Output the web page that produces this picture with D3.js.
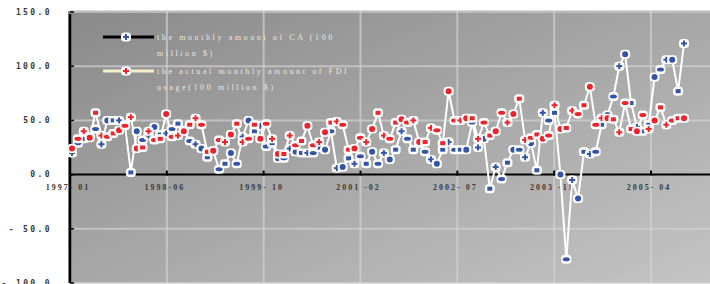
<!DOCTYPE html>
<html>
<head>
<meta charset="utf-8">
<script src="https://cdn.jsdelivr.net/npm/d3@7"></script>
<style>
  body { margin: 0; background: #fff; }
  svg { display: block; }
</style>
</head>
<body>
<svg width="710" height="284"></svg>
<script>
// monthly categories, 1997-01 .. 2005-09
var months = d3.timeMonths(new Date(1997, 0, 1), new Date(2005, 9, 1)).map(d3.timeFormat("%Y-%m"));

// monthly amount of CA (100 million $)
var caValues = [20, 29, 33, 35, 42, 28, 50, 50, 50, 46, 2, 40, 32, 36, 44, 37, 38, 42, 47, 41,
  31, 28, 24, 16, 22, 5, 10, 20, 10, 35, 50, 40, 45, 26, 29, 15, 15, 24, 21, 20,
  20, 20, 25, 23, 40, 6, 7, 15, 10, 17, 10, 21, 10, 20, 14, 23, 40, 33, 23, 29,
  21, 14, 10, 23, 30, 23, 23, 23, 48, 25, 33, -13, 7, -4, 11, 23, 23, 16, 29, 4,
  57, 50, 57, 0, -78, -5, -22, 21, 19, 21, 46, 55, 72, 100, 111, 66, 44, 40, 46, 90,
  97, 106, 106, 77, 121];

// actual monthly amount of FDI usage (100 million $)
var fdiValues = [24, 33, 40, 34, 57, 36, 35, 38, 41, 45, 53, 24, 25, 40, 32, 33, 56, 35, 36, 40,
  46, 52, 46, 21, 22, 32, 30, 37, 47, 30, 33, 46, 33, 47, 33, 19, 19, 36, 27, 31,
  45, 27, 30, 39, 48, 49, 46, 23, 24, 34, 30, 42, 57, 36, 33, 48, 51, 48, 50, 30,
  30, 43, 41, 29, 77, 50, 50, 52, 52, 33, 48, 36, 40, 57, 48, 56, 70, 32, 34, 37,
  33, 36, 64, 42, 43, 59, 56, 64, 81, 46, 52, 52, 51, 39, 66, 42, 40, 55, 42, 50,
  62, 46, 50, 52, 52];

var tickLabels = ["1997- 01", "1998-06", "1999- 10", "2001 -02", "2002- 07", "2003 -11", "2005- 04"];
var yTicks = [-100, -50, 0, 50, 100, 150];

var seriesNames = ["the monthly amount of CA (100|million $)", "the actual monthly amount of FDI|usage(100 million $)"];
var seriesColors = ["#3454a8", "#ee2228"];
var legendLineColors = ["#000", "#f4f0c8"];

var svg = d3.select("svg"),
    plotLeft = 70, plotRight = 710, plotTop = 11, plotBottom = 283;

var x = d3.scaleLinear().domain([0, months.length - 1]).range([72, 684]);
var xTick = d3.scalePoint().domain(tickLabels).range([70, 651]);
var y = d3.scaleLinear().domain([-100, 150]).range([plotBottom, plotTop + 1]);

var defs = svg.append("defs");
var grad = defs.append("linearGradient").attr("id", "bg")
    .attr("x1", 0).attr("y1", 0).attr("x2", 1).attr("y2", 1);
grad.append("stop").attr("offset", "0%").attr("stop-color", "#8a8a8a");
grad.append("stop").attr("offset", "100%").attr("stop-color", "#c4c4c4");

// plot background
svg.append("rect")
    .attr("x", plotLeft - 2).attr("y", plotTop)
    .attr("width", plotRight - plotLeft + 2).attr("height", plotBottom - plotTop)
    .attr("fill", "url(#bg)");
svg.append("line")
    .attr("x1", plotLeft).attr("x2", plotRight).attr("y1", plotTop + 0.5).attr("y2", plotTop + 0.5)
    .attr("stroke", "#7c7c7c").attr("stroke-width", 1.5);

// gridlines
svg.append("g").selectAll("line").data(yTicks.filter(function(d) { return d !== 0; }))
  .join("line")
    .attr("x1", plotLeft).attr("x2", plotRight)
    .attr("y1", function(d) { return y(d); }).attr("y2", function(d) { return y(d); })
    .attr("stroke", "#d2d2d2").attr("stroke-opacity", 0.7).attr("stroke-width", 2);
svg.append("g").selectAll("line").data(tickLabels.slice(1))
  .join("line")
    .attr("x1", function(d) { return xTick(d); }).attr("x2", function(d) { return xTick(d); })
    .attr("y1", plotTop).attr("y2", plotBottom)
    .attr("stroke", "#d2d2d2").attr("stroke-opacity", 0.7).attr("stroke-width", 2);

// y axis
var yAxis = svg.append("g").attr("transform", "translate(" + plotLeft + ",0)");
yAxis.append("line").attr("x1", 0).attr("x2", 0).attr("y1", plotTop + 3).attr("y2", plotBottom)
    .attr("stroke", "#000").attr("stroke-width", 2.5);
yAxis.selectAll(".tk").data(yTicks).join("line")
    .attr("x1", 0).attr("x2", 4)
    .attr("y1", function(d) { return y(d); }).attr("y2", function(d) { return y(d); })
    .attr("stroke", "#000").attr("stroke-width", 1.5);
yAxis.selectAll("text").data(yTicks).join("text")
    .attr("x", -18).attr("y", function(d) { return y(d); })
    .attr("dy", "0.35em")
    .attr("text-anchor", "end")
    .style("font", "bold 8px 'DejaVu Sans Mono', monospace")
    .style("letter-spacing", "2.4px")
    .attr("fill", "#3a3a3a")
    .text(function(d) { return d3.format(".1f")(d).replace("-", "- ").replace("\u2212", "- "); });

// x axis at zero
var xAxis = svg.append("g");
xAxis.append("line").attr("x1", plotLeft).attr("x2", plotRight).attr("y1", y(0)).attr("y2", y(0))
    .attr("stroke", "#000").attr("stroke-width", 2);
xAxis.selectAll(".tk").data(tickLabels).join("line")
    .attr("x1", function(d) { return xTick(d); }).attr("x2", function(d) { return xTick(d); })
    .attr("y1", y(0) - 4).attr("y2", y(0) + 1)
    .attr("stroke", "#000").attr("stroke-width", 2);
xAxis.selectAll("text").data(tickLabels).join("text")
    .attr("x", function(d) { return xTick(d) - 2; }).attr("y", y(0) + 15)
    .attr("text-anchor", "middle")
    .style("font", "bold 8px 'Liberation Serif', serif")
    .style("letter-spacing", "2px")
    .attr("fill", "#3a3a3a")
    .text(function(d) { return d; });

// markers
var shapes = ["cross", "ellipse", "rect", "circle", "ellipse", "cross", "circle", "rect"];
function marker(g, color, i) {
  g.append("rect").attr("x", -5).attr("y", -4.5).attr("width", 10).attr("height", 9)
      .attr("rx", 3.5).attr("fill", "#fff");
  var s = shapes[i % shapes.length];
  if (s === "cross") {
    g.append("rect").attr("x", -3).attr("y", -1).attr("width", 6).attr("height", 2).attr("fill", color);
    g.append("rect").attr("x", -1).attr("y", -3).attr("width", 2).attr("height", 6).attr("fill", color);
  } else if (s === "ellipse") {
    g.append("ellipse").attr("rx", 3.5).attr("ry", 2).attr("fill", color);
  } else if (s === "rect") {
    g.append("rect").attr("x", -2.5).attr("y", -2).attr("width", 5).attr("height", 4).attr("fill", color);
  } else {
    g.append("circle").attr("r", 3).attr("fill", color);
  }
}

var line = d3.line()
    .x(function(d, i) { return x(i); })
    .y(function(d) { return y(d); });

[caValues, fdiValues].forEach(function(vals) {
  svg.append("path").datum(vals)
      .attr("d", line)
      .attr("fill", "none")
      .attr("stroke", "#fff")
      .attr("stroke-width", 2);
});
[caValues, fdiValues].forEach(function(vals, k) {
  svg.append("g").selectAll("g").data(vals).join("g")
      .attr("transform", function(d, i) { return "translate(" + x(i) + "," + y(d) + ")"; })
      .each(function(d, i) { marker(d3.select(this), seriesColors[k], i + k * 3); });
});

// legend
var legend = svg.append("g");
seriesNames.forEach(function(name, k) {
  var ly = 37 + k * 34;
  legend.append("line").attr("x1", 103).attr("x2", 154).attr("y1", ly).attr("y2", ly)
      .attr("stroke", legendLineColors[k]).attr("stroke-width", 3);
  var m = legend.append("g").attr("transform", "translate(126," + ly + ")");
  marker(m, seriesColors[k], 0);
  name.split("|").forEach(function(p, j) {
    legend.append("text")
        .attr("x", 157).attr("y", ly + 3 + j * 16)
        .style("font", "8px 'Liberation Serif', serif")
        .style("letter-spacing", "2.6px")
        .attr("fill", "#e9e7dc")
        .text(p);
  });
});
</script>
</body>
</html>
